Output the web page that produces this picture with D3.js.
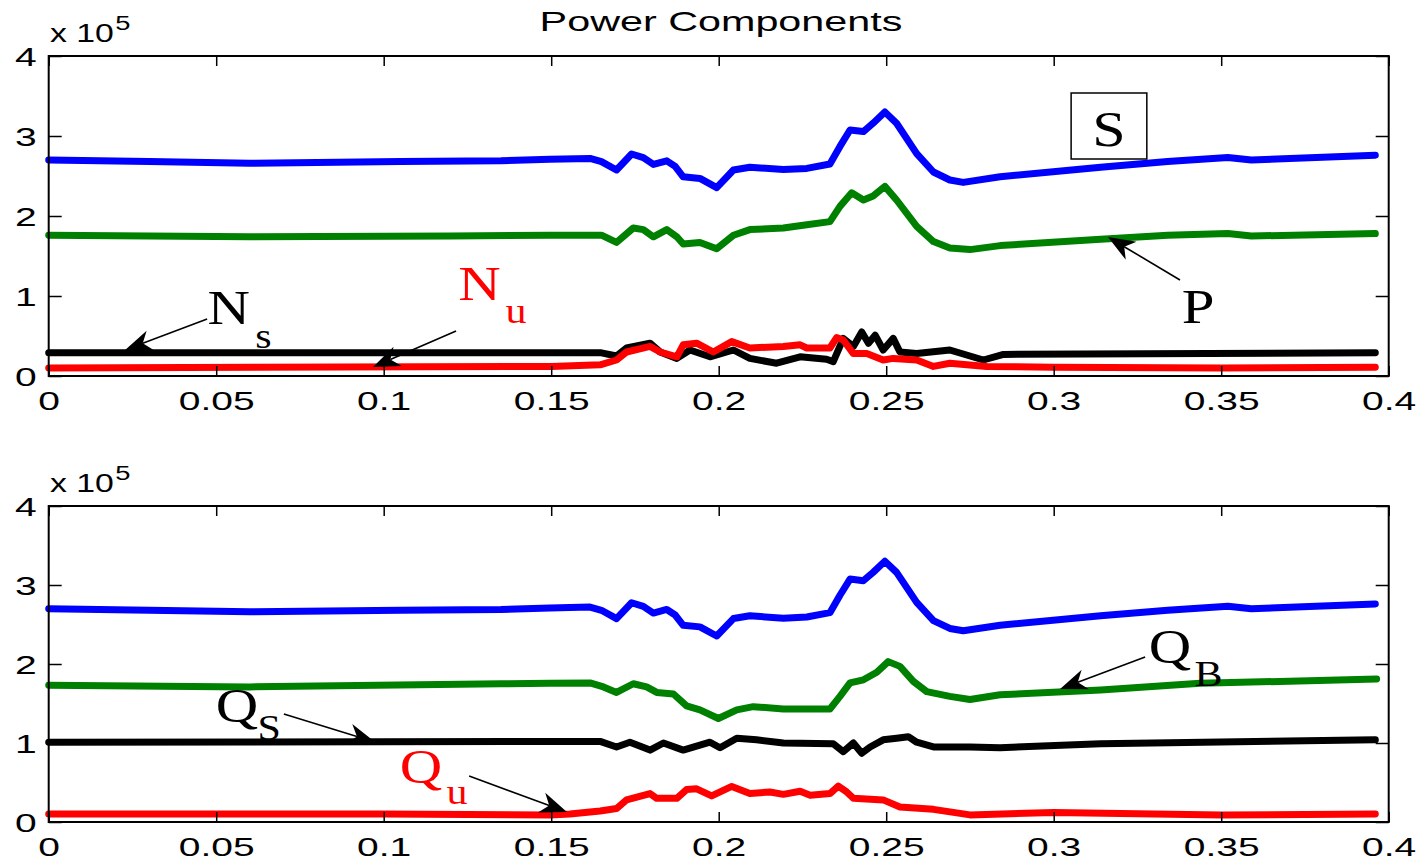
<!DOCTYPE html>
<html>
<head>
<meta charset="utf-8">
<script src="https://cdn.jsdelivr.net/npm/d3@7"></script>
<style>
  html, body { margin: 0; padding: 0; background: #fff; }
  svg { display: block; }
</style>
</head>
<body>
<div id="chart"></div>
<script>
// values are in units of 1e5, time in seconds
const xTicks = [0, 0.05, 0.1, 0.15, 0.2, 0.25, 0.3, 0.35, 0.4];
const xTickLabels = ["0", "0.05", "0.1", "0.15", "0.2", "0.25", "0.3", "0.35", "0.4"];
const yTicks = [0, 1, 2, 3, 4];
const yTickLabels = ["0", "1", "2", "3", "4"];

const seriesS = [[0,2.70],[0.03,2.68],[0.06,2.66],[0.105,2.68],[0.135,2.69],[0.1496,2.71],[0.1616,2.72],[0.165,2.68],[0.1695,2.575],[0.174,2.775],[0.1775,2.73],[0.1805,2.645],[0.1845,2.69],[0.187,2.62],[0.1894,2.49],[0.1944,2.47],[0.1994,2.355],[0.2044,2.575],[0.2093,2.61],[0.2193,2.58],[0.2263,2.595],[0.2332,2.65],[0.2362,2.87],[0.2392,3.075],[0.2432,3.055],[0.2461,3.16],[0.2496,3.30],[0.2531,3.16],[0.2591,2.78],[0.2641,2.55],[0.269,2.45],[0.273,2.42],[0.284,2.49],[0.314,2.61],[0.334,2.68],[0.352,2.73],[0.359,2.70],[0.396,2.76]];

const seriesP = [[0,1.76],[0.06,1.74],[0.12,1.75],[0.1496,1.76],[0.165,1.76],[0.1695,1.67],[0.1745,1.85],[0.1775,1.83],[0.1805,1.74],[0.1845,1.83],[0.1875,1.74],[0.1894,1.65],[0.1944,1.67],[0.1994,1.59],[0.2044,1.76],[0.2093,1.83],[0.2193,1.85],[0.2263,1.89],[0.2332,1.93],[0.2362,2.12],[0.2397,2.29],[0.2432,2.20],[0.2461,2.25],[0.2496,2.37],[0.2531,2.20],[0.2591,1.87],[0.2641,1.68],[0.269,1.60],[0.275,1.58],[0.284,1.63],[0.314,1.71],[0.334,1.76],[0.352,1.78],[0.359,1.75],[0.396,1.78]];

const seriesNs = [[0,0.29],[0.165,0.29],[0.1695,0.25],[0.1725,0.35],[0.1795,0.41],[0.1825,0.30],[0.1875,0.22],[0.1914,0.325],[0.1974,0.24],[0.2044,0.325],[0.2093,0.22],[0.2173,0.16],[0.2243,0.24],[0.2322,0.21],[0.2342,0.18],[0.2372,0.47],[0.2402,0.37],[0.2427,0.55],[0.2447,0.41],[0.2467,0.51],[0.2491,0.325],[0.2521,0.47],[0.2541,0.30],[0.2591,0.28],[0.269,0.325],[0.279,0.20],[0.285,0.27],[0.396,0.29]];

const seriesNu = [[0,0.10],[0.15,0.12],[0.1646,0.14],[0.1695,0.20],[0.1725,0.30],[0.1795,0.37],[0.1825,0.30],[0.1875,0.24],[0.1894,0.39],[0.1934,0.41],[0.1984,0.30],[0.2039,0.43],[0.2093,0.35],[0.2193,0.37],[0.2243,0.39],[0.2263,0.35],[0.2332,0.35],[0.2352,0.48],[0.2372,0.45],[0.2402,0.28],[0.2442,0.28],[0.2491,0.20],[0.2521,0.22],[0.2591,0.20],[0.2641,0.12],[0.269,0.16],[0.28,0.12],[0.30,0.11],[0.35,0.10],[0.396,0.11]];

const seriesQB = [[0,1.73],[0.06,1.71],[0.135,1.75],[0.1496,1.755],[0.1616,1.76],[0.1656,1.71],[0.1695,1.64],[0.1745,1.75],[0.1785,1.71],[0.1815,1.64],[0.1865,1.62],[0.1904,1.47],[0.1944,1.42],[0.1999,1.31],[0.2054,1.42],[0.2103,1.46],[0.2193,1.43],[0.2332,1.43],[0.2362,1.59],[0.2392,1.76],[0.2432,1.80],[0.2472,1.895],[0.2506,2.03],[0.2541,1.97],[0.2581,1.78],[0.2621,1.65],[0.269,1.59],[0.275,1.55],[0.284,1.61],[0.314,1.67],[0.3437,1.755],[0.3964,1.81]];

const seriesQS = [[0,1.01],[0.1496,1.02],[0.1646,1.02],[0.1695,0.95],[0.1735,1.01],[0.1795,0.91],[0.1835,1.00],[0.1894,0.91],[0.1974,1.01],[0.2004,0.94],[0.2054,1.06],[0.2113,1.04],[0.2193,1.00],[0.2342,0.99],[0.2372,0.89],[0.2402,1.00],[0.2427,0.87],[0.2452,0.95],[0.2491,1.04],[0.2531,1.06],[0.2566,1.08],[0.2591,1.01],[0.2641,0.95],[0.275,0.95],[0.284,0.94],[0.314,0.99],[0.396,1.04]];

const seriesQu = [[0,0.10],[0.1,0.10],[0.1496,0.09],[0.1556,0.10],[0.1646,0.14],[0.1695,0.17],[0.1725,0.28],[0.1795,0.36],[0.1815,0.30],[0.1875,0.30],[0.1904,0.41],[0.1934,0.42],[0.1979,0.33],[0.2039,0.45],[0.2093,0.36],[0.2153,0.38],[0.2193,0.35],[0.2243,0.39],[0.2273,0.34],[0.2332,0.36],[0.2357,0.455],[0.2382,0.38],[0.2402,0.30],[0.2491,0.28],[0.2541,0.19],[0.2641,0.16],[0.275,0.09],[0.30,0.12],[0.35,0.09],[0.396,0.10]];

// annotation labels (data coords): main letter, subscript, arrow start -> tip
const topLabels = [
  { text: "N", sub: "s", color: "#000", at: [0.0537, 0.65], subAt: [0.0641, 0.35], from: [0.0473, 0.7125], to: [0.0228, 0.325] },
  { text: "N", sub: "u", color: "#ff0000", at: [0.1286, 0.95], subAt: [0.1395, 0.6625], from: [0.1216, 0.5625], to: [0.0968, 0.1125] },
  { text: "P", sub: null, color: "#000", at: [0.3431, 0.6625], from: [0.3377, 1.20], to: [0.3162, 1.7375] }
];
const bottomLabels = [
  { text: "Q", sub: "B", color: "#000", at: [0.3347, 2.0127], subAt: [0.3462, 1.7215], from: [0.3273, 2.0886], to: [0.3019, 1.6835] },
  { text: "Q", sub: "S", color: "#000", at: [0.0562, 1.2658], subAt: [0.0658, 1.038], from: [0.0702, 1.367], to: [0.0974, 1.0127] },
  { text: "Q", sub: "u", color: "#ff0000", at: [0.1111, 0.4937], subAt: [0.1219, 0.2278], from: [0.1255, 0.5823], to: [0.1547, 0.1266] }
];
const boxLabel = { text: "S", x0: 0.3052, x1: 0.3278, y0: 2.7125, y1: 3.5375, base: 2.875 };

const w = 1426, h = 864;
const left = 48.7, right = 1388.7;
const sans = "'Liberation Sans', Arial, sans-serif";
const serif = "'Liberation Serif', 'Times New Roman', serif";
const stretch = 1.5;

const svg = d3.select("#chart").append("svg")
  .attr("width", w)
  .attr("height", h)
  .style("background", "#fff");

const x = d3.scaleLinear().domain([0, 0.4]).range([left, right]);

// title
svg.append("text")
  .attr("transform", "translate(721,31) scale(1.45,1)")
  .attr("text-anchor", "middle")
  .attr("font-family", sans)
  .attr("font-size", 28.5)
  .text("Power Components");

function drawArrow(g, x1, y1, x2, y2) {
  const dx = x2 - x1, dy = y2 - y1;
  const len = Math.sqrt(dx * dx + dy * dy);
  const ux = dx / len, uy = dy / len, nx = -uy, ny = ux;
  const L = 27, W = 10.5;
  g.append("line")
    .attr("x1", x1).attr("y1", y1)
    .attr("x2", x2 - ux * L * 0.7).attr("y2", y2 - uy * L * 0.7)
    .attr("stroke", "#000").attr("stroke-width", 1.6);
  const pts = [
    [x2, y2],
    [x2 - ux * L + nx * W, y2 - uy * L + ny * W],
    [x2 - ux * L * 0.7, y2 - uy * L * 0.7],
    [x2 - ux * L - nx * W, y2 - uy * L - ny * W]
  ];
  g.append("polygon").attr("points", pts.map(p => p.join(",")).join(" ")).attr("fill", "#000");
}

function serifText(g, px, py, str, size, color) {
  g.append("text")
    .attr("transform", "translate(" + px + "," + py + ") scale(1.2,1)")
    .attr("text-anchor", "middle")
    .attr("font-family", serif)
    .attr("font-size", size)
    .attr("fill", color)
    .text(str);
}

function drawPanel(top, bottom, lines, labels, withBox) {
  const y = d3.scaleLinear().domain([0, 4]).range([bottom, top]);
  const g = svg.append("g");

  // data lines
  const line = d3.line()
    .x(d => x(d[0]))
    .y(d => y(d[1]));
  lines.forEach(s => {
    g.append("path")
      .datum(s.data)
      .attr("d", line)
      .attr("fill", "none")
      .attr("stroke", s.color)
      .attr("stroke-width", 7)
      .attr("stroke-linejoin", "round")
      .attr("stroke-linecap", "round");
  });

  // axes, ticks pointing inward
  const xb = g.append("g").attr("transform", "translate(0," + bottom + ")")
    .call(d3.axisBottom(x).tickValues(xTicks).tickSize(-10).tickPadding(16)
      .tickFormat((d, i) => xTickLabels[i]));
  const xt = g.append("g").attr("transform", "translate(0," + top + ")")
    .call(d3.axisTop(x).tickValues(xTicks).tickSize(-10).tickFormat(""));
  const yl = g.append("g").attr("transform", "translate(" + left + ",0)")
    .call(d3.axisLeft(y).tickValues(yTicks).tickSize(-13).tickPadding(8)
      .tickFormat((d, i) => yTickLabels[i]));
  const yr = g.append("g").attr("transform", "translate(" + right + ",0)")
    .call(d3.axisRight(y).tickValues(yTicks).tickSize(-13).tickFormat(""));
  [xb, xt, yl, yr].forEach(a => {
    a.select(".domain").remove();
    a.selectAll("line").attr("stroke", "#000").attr("stroke-width", 1.5);
    a.selectAll("text")
      .attr("fill", "#000")
      .attr("font-family", sans)
      .attr("font-size", 26)
      .attr("transform", "scale(" + stretch + ",1)");
  });
  yl.selectAll("text").attr("dy", "0.36em");

  g.append("rect")
    .attr("x", left).attr("y", top)
    .attr("width", right - left).attr("height", bottom - top)
    .attr("fill", "none").attr("stroke", "#000").attr("stroke-width", 2);

  // x 10^5 exponent
  const ex = g.append("text")
    .attr("transform", "translate(50," + (top - 14) + ") scale(1.3,1)")
    .attr("font-family", sans)
    .attr("font-size", 26);
  ex.append("tspan").text("x 10");
  ex.append("tspan").attr("font-size", 21).attr("dy", -12).attr("dx", 1).text("5");

  // annotations
  labels.forEach(l => {
    serifText(g, x(l.at[0]), y(l.at[1]), l.text, 49, l.color);
    if (l.sub) serifText(g, x(l.subAt[0]), y(l.subAt[1]), l.sub, 35, l.color);
    drawArrow(g, x(l.from[0]), y(l.from[1]), x(l.to[0]), y(l.to[1]));
  });

  if (withBox) {
    g.append("rect")
      .attr("x", x(boxLabel.x0)).attr("y", y(boxLabel.y1))
      .attr("width", x(boxLabel.x1) - x(boxLabel.x0))
      .attr("height", y(boxLabel.y0) - y(boxLabel.y1))
      .attr("fill", "#fff").attr("stroke", "#000").attr("stroke-width", 1.5);
    serifText(g, x((boxLabel.x0 + boxLabel.x1) / 2), y(boxLabel.base), boxLabel.text, 50, "#000");
  }
}

drawPanel(56, 376, [
  { data: seriesS, color: "#0000ff" },
  { data: seriesP, color: "#008000" },
  { data: seriesNs, color: "#000000" },
  { data: seriesNu, color: "#ff0000" }
], topLabels, true);

drawPanel(506, 822, [
  { data: seriesS, color: "#0000ff" },
  { data: seriesQB, color: "#008000" },
  { data: seriesQS, color: "#000000" },
  { data: seriesQu, color: "#ff0000" }
], bottomLabels, false);
</script>
</body>
</html>
